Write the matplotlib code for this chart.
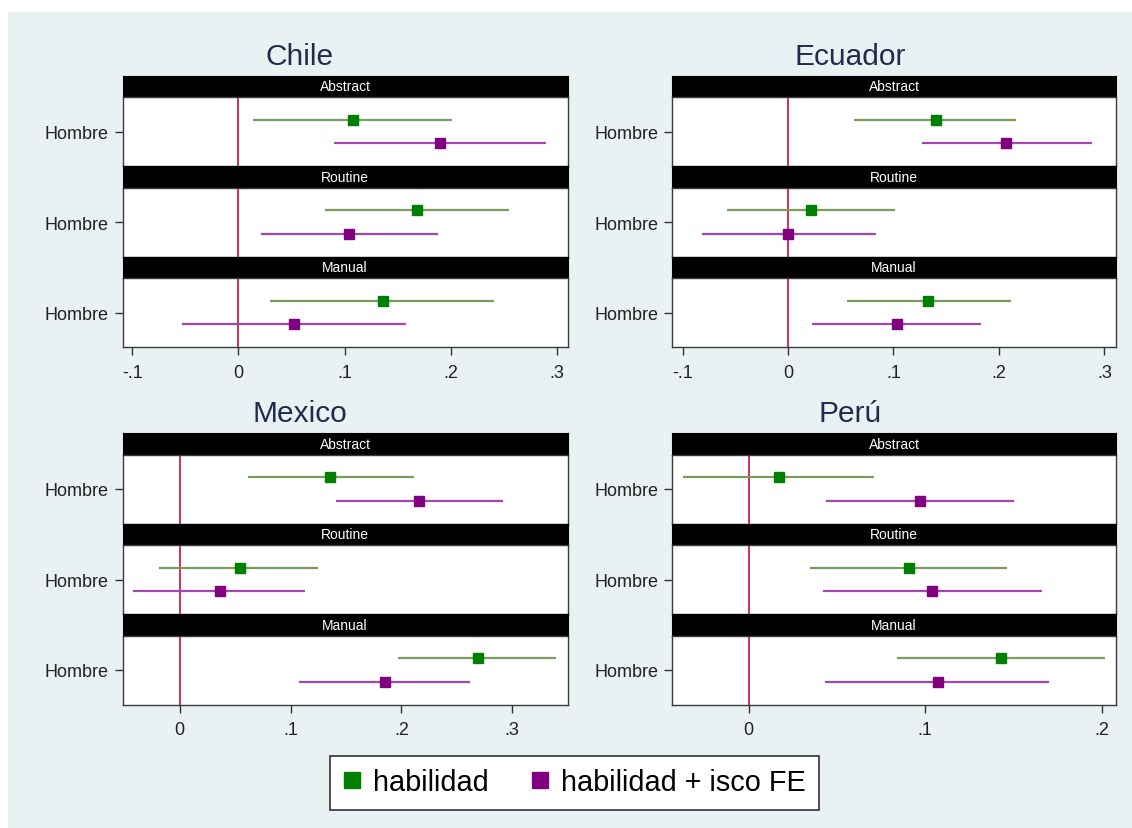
import matplotlib
matplotlib.use("Agg")
import matplotlib.pyplot as plt
from matplotlib.lines import Line2D
from matplotlib.patches import Rectangle

plt.rcParams['font.family'] = ['Liberation Sans', 'DejaVu Sans']

W, H = 1132, 829

# order of sub-panels inside every country block
groups = ["Abstract", "Routine", "Manual"]
row_label = "Hombre"
series_names = ["habilidad", "habilidad + isco FE"]

# Chile
chile_hab_b = [0.108, 0.168, 0.136]
chile_hab_lo = [0.014, 0.082, 0.030]
chile_hab_hi = [0.201, 0.255, 0.241]
chile_fe_b = [0.190, 0.104, 0.052]
chile_fe_lo = [0.090, 0.021, -0.053]
chile_fe_hi = [0.290, 0.188, 0.158]

# Ecuador
ecu_hab_b = [0.140, 0.022, 0.133]
ecu_hab_lo = [0.063, -0.058, 0.056]
ecu_hab_hi = [0.216, 0.101, 0.211]
ecu_fe_b = [0.207, 0.000, 0.103]
ecu_fe_lo = [0.127, -0.082, 0.023]
ecu_fe_hi = [0.288, 0.083, 0.183]

# Mexico
mex_hab_b = [0.136, 0.054, 0.269]
mex_hab_lo = [0.062, -0.019, 0.197]
mex_hab_hi = [0.211, 0.125, 0.340]
mex_fe_b = [0.216, 0.036, 0.185]
mex_fe_lo = [0.141, -0.042, 0.108]
mex_fe_hi = [0.292, 0.113, 0.262]

# Peru
peru_hab_b = [0.017, 0.091, 0.143]
peru_hab_lo = [-0.037, 0.035, 0.084]
peru_hab_hi = [0.071, 0.146, 0.202]
peru_fe_b = [0.097, 0.104, 0.107]
peru_fe_lo = [0.044, 0.042, 0.043]
peru_fe_hi = [0.150, 0.166, 0.170]

# axis ticks
ticks_wide = [-0.1, 0, 0.1, 0.2, 0.3]
ticks_wide_lbl = ["-.1", "0", ".1", ".2", ".3"]
ticks_mex = [0, 0.1, 0.2, 0.3]
ticks_mex_lbl = ["0", ".1", ".2", ".3"]
ticks_peru = [0, 0.1, 0.2]
ticks_peru_lbl = ["0", ".1", ".2"]

GREEN = "#008000"
GREEN_CI = "#7a9b5c"
PURPLE = "#800080"
PURPLE_CI = "#a445b2"
ZERO_RED = "#d0305a"
BG = "#eaf1f3"
TITLE_COL = "#1f2d4d"


def px_rect(left, top, right, bottom):
    return [left / W, 1 - bottom / H, (right - left) / W, (bottom - top) / H]


def draw_country(fig, name, title_x, box_l, box_r, top, xlim, ticks, tick_lbl,
                 hab, fe):
    unit = 90.5
    strip = 21.5
    fig.text(title_x / W, 1 - (top - 20) / H, name, ha="center", va="center",
             fontsize=21.5, color=TITLE_COL)
    for i, g in enumerate(groups):
        s_top = top + i * unit
        # strip header
        sax = fig.add_axes(px_rect(box_l, s_top, box_r, s_top + strip))
        sax.set_facecolor("black")
        sax.set_xticks([])
        sax.set_yticks([])
        for sp in sax.spines.values():
            sp.set_color("black")
        sax.text(0.5, 0.5, g, color="white", ha="center", va="center",
                 fontsize=10, transform=sax.transAxes)
        # plot area
        ax = fig.add_axes(px_rect(box_l, s_top + strip, box_r, s_top + unit))
        ax.set_facecolor("white")
        ax.axvline(0, color=ZERO_RED, lw=1.4, zorder=1)
        for (b, lo, hi), yoff, col, cicol in [
                (hab, -0.17, GREEN, GREEN_CI), (fe, 0.17, PURPLE, PURPLE_CI)]:
            y = 1 + yoff
            ax.plot([lo[i], hi[i]], [y, y], color=cicol, lw=1.6, zorder=2,
                    solid_capstyle="butt")
            ax.plot([b[i]], [y], marker="s", ms=7.4, color=col,
                    markeredgecolor=col, ls="none", zorder=3)
        ax.set_xlim(xlim)
        ax.set_ylim(1.5, 0.5)
        ax.set_yticks([1])
        ax.set_yticklabels([row_label], fontsize=13, color="#222222")
        ax.tick_params(axis="y", length=6, width=1, pad=4, color="#333333")
        for sp in ax.spines.values():
            sp.set_color("#3a3a3a")
            sp.set_linewidth(1)
        if i == len(groups) - 1:
            ax.set_xticks(ticks)
            ax.set_xticklabels(tick_lbl, fontsize=13, color="#222222")
            ax.tick_params(axis="x", length=6, width=1, pad=6, color="#333333")
        else:
            ax.set_xticks([])


fig = plt.figure(figsize=(W / 100, H / 100), dpi=100)
fig.patch.set_facecolor("white")
fig.patches.append(Rectangle((8 / W, 0), 1 - 8 / W, 1 - 13 / H,
                             transform=fig.transFigure, facecolor=BG,
                             edgecolor="none", zorder=-10))

draw_country(fig, "Chile", 300, 122.7, 567.5, 76.7, (-0.109, 0.310),
             ticks_wide, ticks_wide_lbl,
             (chile_hab_b, chile_hab_lo, chile_hab_hi),
             (chile_fe_b, chile_fe_lo, chile_fe_hi))
draw_country(fig, "Ecuador", 850, 672, 1116, 76.7, (-0.110, 0.311),
             ticks_wide, ticks_wide_lbl,
             (ecu_hab_b, ecu_hab_lo, ecu_hab_hi),
             (ecu_fe_b, ecu_fe_lo, ecu_fe_hi))
draw_country(fig, "Mexico", 300, 122.7, 567.5, 434, (-0.0515, 0.350),
             ticks_mex, ticks_mex_lbl,
             (mex_hab_b, mex_hab_lo, mex_hab_hi),
             (mex_fe_b, mex_fe_lo, mex_fe_hi))
draw_country(fig, "Perú", 850, 672, 1116, 434, (-0.0434, 0.208),
             ticks_peru, ticks_peru_lbl,
             (peru_hab_b, peru_hab_lo, peru_hab_hi),
             (peru_fe_b, peru_fe_lo, peru_fe_hi))

handles = [Line2D([], [], marker="s", ls="none", ms=11.5, color=GREEN),
           Line2D([], [], marker="s", ls="none", ms=11.5, color=PURPLE)]
leg = fig.legend(handles, series_names, loc="center",
                 bbox_to_anchor=(574.5 / W, 1 - 783.5 / H), ncol=2,
                 fontsize=20.8, frameon=True, fancybox=False, edgecolor="#333333",
                 handlelength=0.6, handletextpad=0.45, columnspacing=1.45,
                 borderpad=0.45)
leg.get_frame().set_linewidth(1.2)
leg.get_frame().set_facecolor("white")
leg.get_frame().set_alpha(1)

fig.savefig("out.png", dpi=100, facecolor=fig.get_facecolor())
